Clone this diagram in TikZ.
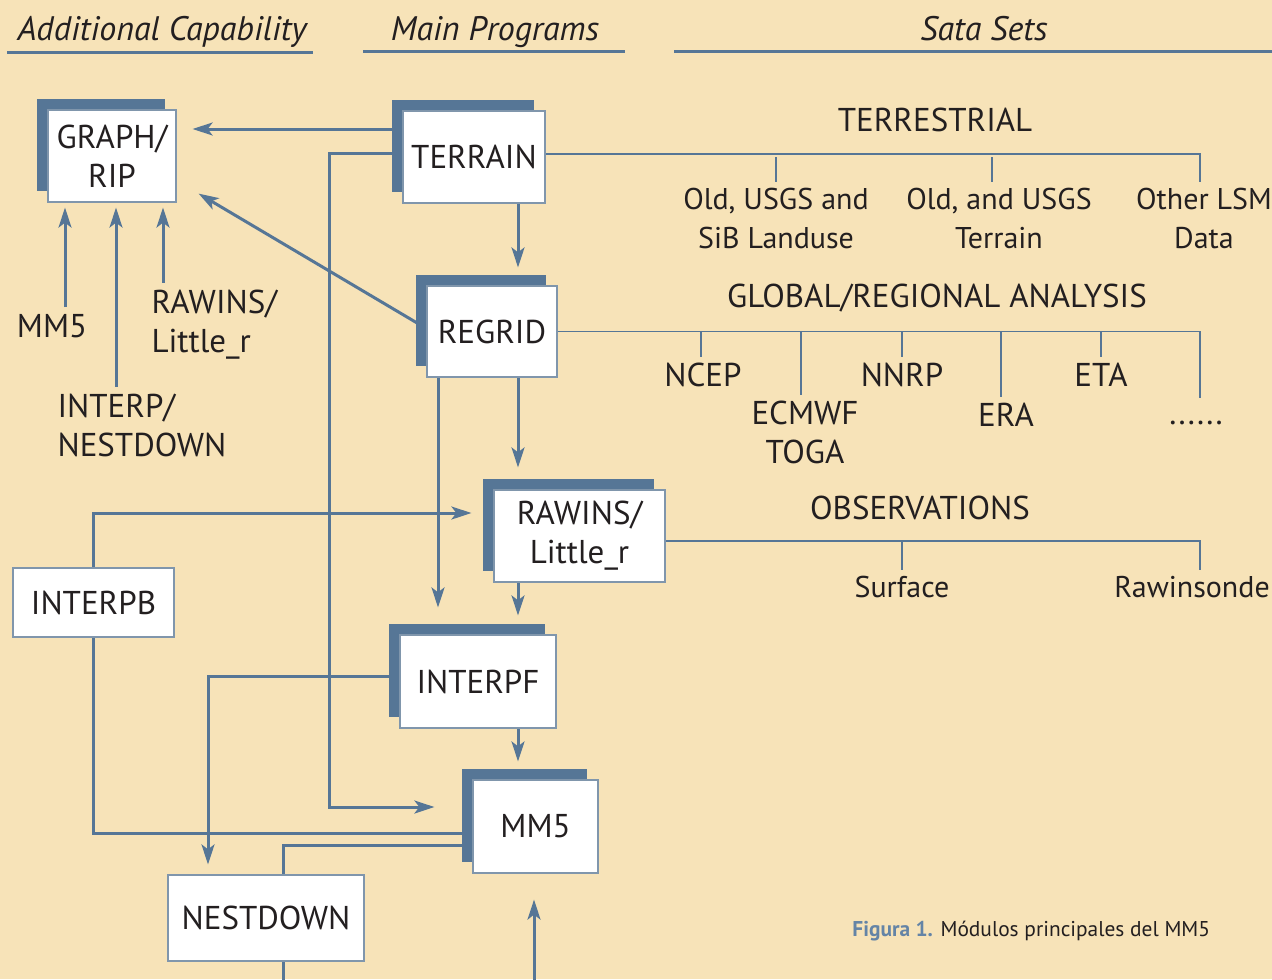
\documentclass[tikz,border=0pt]{standalone}
\usepackage{fontspec}
\setmainfont{PT Sans}
\usepackage{tikz}
\usetikzlibrary{arrows.meta,positioning,shadows}

\definecolor{paper}{RGB}{247,227,184}
\definecolor{linkblue}{RGB}{86,118,150}
\definecolor{capblue}{RGB}{100,132,166}
\definecolor{edgeblue}{RGB}{128,150,172}
\definecolor{ink}{RGB}{35,31,32}

\pgfdeclarelayer{paperlayer}
\pgfdeclarelayer{linklayer}
\pgfsetlayers{paperlayer,linklayer,main}

\begin{document}
\begin{tikzpicture}[x=0.5pt, y=-0.5pt,
  every node/.style={font=\fontsize{16.5}{19.5}\selectfont, text=ink},
  heading/.style={anchor=base, font=\fontsize{17}{19.5}\selectfont\itshape},
  box/.style={draw=edgeblue, fill=white, line width=0.6pt, inner sep=0pt, align=center},
  pile/.style={box, general shadow={fill=linkblue, shadow xshift=-5.5pt, shadow yshift=5.5pt}},
  flow/.style={draw=linkblue, line width=1.5pt, -{Stealth[length=10pt,width=6.5pt,inset=2.5pt]}},
  link/.style={draw=linkblue, line width=1.5pt},
  tree/.style={draw=linkblue, line width=0.8pt},
  leaf/.style={align=center, inner sep=3pt, anchor=north},
  lowleaf/.style={leaf, font=\fontsize{15}{19.5}\selectfont},
  rule/.style={draw=linkblue, line width=1.5pt}]
  \useasboundingbox (0,0) rectangle (1272,979);
  \begin{pgfonlayer}{paperlayer}
    \fill[paper] (0,0) rectangle (1272,979);
  \end{pgfonlayer}

  % column headings
  \node[heading] (addhead) at (162,41) {Additional Capability};
  \node[heading] (mainhead) at (495,41) {Main Programs};
  \node[heading] (datahead) at (984,41) {Sata Sets};
  \draw[rule] (7,53) -- (313,53);
  \draw[rule] (363,52) -- (625,52);
  \draw[rule] (674,52) -- (1272,52);

  % programs
  \node[pile, minimum width=64pt, minimum height=46pt] (graph) at (112,156) {GRAPH/\\RIP};
  \node[pile, minimum width=71pt, minimum height=46pt] (terrain) at (474,157) {TERRAIN};
  \node[pile, minimum width=65pt, minimum height=45.5pt] (regrid) at (492,331.5) {REGRID};
  \node[pile, minimum width=85.5pt, minimum height=46pt] (rawins) at (579.5,536) {RAWINS/\\Little\_r};
  \node[pile, minimum width=78pt, minimum height=46.5pt] (interpf) at (478,681.5) {INTERPF};
  \node[pile, minimum width=62.5pt, minimum height=46.5pt] (mmfive) at (535.5,826.5) {MM5};
  \node[box, minimum width=80.5pt, minimum height=34.5pt] (interpb) at (93.5,602.5) {INTERPB};
  \node[box, minimum width=98pt, minimum height=43pt] (nestdown) at (266,918) {NESTDOWN};

  % inputs of GRAPH/RIP
  \node (mmlabel) at (52,326) {MM5};
  \node[align=left, anchor=west] (interplabel) at (50.5,425.5) {INTERP/\\NESTDOWN};
  \node[align=left, anchor=west] (rawlabel) at (144.5,324.5) {RAWINS/\\Little\_r};

  % data sets
  \node (terrhead) at (935,120) {TERRESTRIAL};
  \node[lowleaf] (landuse) at (776,182) {Old, USGS and\\SiB Landuse};
  \node[lowleaf] (oldterrain) at (999,182) {Old, and USGS\\Terrain};
  \node[lowleaf] (otherlsm) at (1204,182) {Other LSM\\Data};
  \node (globhead) at (937,298) {GLOBAL/REGIONAL ANALYSIS};
  \node[leaf] (ncep) at (703,357) {NCEP};
  \node[leaf] (ecmwf) at (805,395) {ECMWF\\TOGA};
  \node[leaf] (nnrp) at (902,357) {NNRP};
  \node[leaf] (era) at (1006,397) {ERA};
  \node[leaf] (eta) at (1101,357) {ETA};
  \node[leaf, text height=10pt] (dots) at (1196,398) {......};
  \node (obshead) at (920,508) {OBSERVATIONS};
  \node[lowleaf] (surface) at (902,570) {Surface};
  \node[lowleaf] (rawinsonde) at (1192,570) {Rawinsonde};

  \node[anchor=base west, inner sep=0pt, font=\fontsize{10.7}{13}\selectfont] (caption) at (852,936)
    {\textcolor{capblue}{\bfseries Figura 1.} Módulos principales del MM5};

  \coordinate (spine) at (518,0);
  \coordinate (drain) at (283,990);
  \coordinate (feed) at (534,990);

  \begin{pgfonlayer}{linklayer}
    \draw[flow, shorten >=2.5pt] ([xshift=-23.5pt]graph.south |- mmlabel.north) -- ([xshift=-23.5pt]graph.south);
    \draw[flow, shorten >=2.5pt] ([xshift=2pt]graph.south |- interplabel.north) -- ([xshift=2pt]graph.south);
    \draw[flow, shorten >=2.5pt] ([xshift=25.5pt]graph.south |- rawlabel.north) -- ([xshift=25.5pt]graph.south);

    \draw[flow, shorten >=8pt] ([yshift=14pt]terrain.west) -- ([yshift=14pt]terrain.west -| graph.east);
    \draw[flow, shorten >=19pt] ([yshift=2pt]terrain.west) -- ++(-73,0) |- ([yshift=9.75pt]mmfive.west);
    \draw[flow, shorten >=9pt] (terrain.south -| spine) -- (regrid.north -| spine);
    \draw[flow] ([yshift=1.5pt]regrid.west) -- ([shift={(11pt,4.5pt)}]graph.south east);
    \draw[flow, shorten >=13.5pt] ([xshift=-27pt]regrid.south) -- ([xshift=-27pt]regrid.south |- interpf.north);
    \draw[flow, shorten >=11pt] (regrid.south -| spine) -- (rawins.north -| spine);
    \draw[flow, shorten >=11pt] (interpb.north) |- ([yshift=11.5pt]rawins.west);
    \draw[flow, shorten >=9.5pt] (rawins.south -| spine) -- (interpf.north -| spine);
    \draw[flow, shorten >=9pt] (interpf.south -| spine) -- (mmfive.north -| spine);
    \draw[link] (interpb.south) |- ([yshift=-3.25pt]mmfive.west);
    \draw[flow, shorten >=5pt] ([yshift=2.75pt]interpf.west) -| ([xshift=-29pt]nestdown.north);
    \draw[link] ([yshift=-9.25pt]mmfive.west) -| ([xshift=8.5pt]nestdown.north);
    \draw[link] ([xshift=8.5pt]nestdown.south) -- (drain);
    \draw[flow, shorten >=13pt] (feed) -- (feed |- mmfive.south);

    % data set trees
    \draw[tree] ([yshift=1.5pt]terrain.east) -| ([xshift=-2pt]otherlsm.north);
    \draw[tree] (landuse.north |- terrain.east) -- (landuse.north);
    \draw[tree] ([xshift=-3.5pt]oldterrain.north |- terrain.east) -- ([xshift=-3.5pt]oldterrain.north);
    \draw[tree] (regrid.east) -| ([xshift=2pt]dots.north);
    \draw[tree] ([xshift=-1pt]ncep.north |- regrid.east) -- ([xshift=-1pt]ncep.north);
    \draw[tree] ([xshift=-2pt]ecmwf.north |- regrid.east) -- ([xshift=-2pt]ecmwf.north);
    \draw[tree] (nnrp.north |- regrid.east) -- (nnrp.north);
    \draw[tree] ([xshift=-2.5pt]era.north |- regrid.east) -- ([xshift=-2.5pt]era.north);
    \draw[tree] (eta.north |- regrid.east) -- (eta.north);
    \draw[tree] ([yshift=-2.5pt]rawins.east) -| ([xshift=4pt]rawinsonde.north);
    \draw[tree] ([yshift=-2.5pt]rawins.east -| surface.north) -- (surface.north);
  \end{pgfonlayer}
\end{tikzpicture}
\end{document}
